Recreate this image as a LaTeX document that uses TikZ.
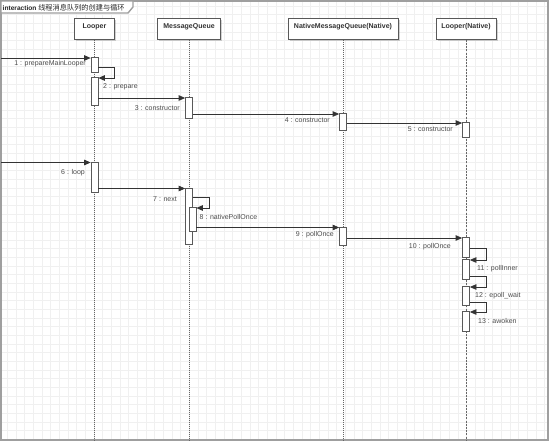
\documentclass[tikz,border=0pt]{standalone}
\usepackage{fontspec}
\setmainfont{Liberation Sans}
\newfontfamily\cjk{Noto Sans CJK SC}
\usetikzlibrary{shadows,arrows.meta}
\begin{document}
\begin{tikzpicture}[x=1pt,y=-1pt,
  gridline/.style={draw=gray!12, line width=0.5pt},
  frame/.style={draw=gray!75, line width=1.4pt},
  head/.style={draw=gray!70!black, fill=white, line width=0.8pt,
    font=\fontsize{7}{8}\selectfont\bfseries, text=black!80,
    text height=7pt, text depth=8pt, inner ysep=3pt, inner xsep=0pt, anchor=north,
    drop shadow={shadow xshift=1.5pt, shadow yshift=-1.5pt, fill=gray, opacity=0.35}},
  act/.style={draw=gray!70!black, fill=white, line width=0.7pt, minimum width=7pt, inner sep=0pt, anchor=north},
  life/.style={draw=gray!80!black, line width=0.7pt, dash pattern=on 1pt off 1pt},
  msg/.style={draw=black!80, line width=0.7pt, -{Triangle[length=6.5pt,width=5.5pt]}},
  lbl/.style={font=\fontsize{7}{8}\selectfont, text=black!70, inner sep=0pt},
]
\useasboundingbox (0,0) rectangle (550,442);
% grid
\begin{scope}
  \clip (1,1) rectangle (548,440);
  \foreach \i in {0,...,62} \draw[gridline] (7.1+\i*8.67,1) -- (7.1+\i*8.67,440);
  \foreach \j in {0,...,50} \draw[gridline] (1,5.8+\j*8.67) -- (548,5.8+\j*8.67);
\end{scope}
% frame and title tab
\draw[frame] (1,1) rectangle (548,440);
\filldraw[frame, fill=white] (1,1) -- (1,13) -- (128,13) -- (133,7) -- (133,1) -- cycle;
\node[anchor=west, inner sep=0pt, font=\fontsize{6.6}{8}\selectfont, text=black!85] (title) at (2.5,7.5)
  {\bfseries interaction {\fontsize{7.2}{8}\selectfont\mdseries\cjk 线程消息队列的创建与循环}};
% heads
\node[head, minimum width=40pt]  (hL)   at (94.5,18) {Looper};
\node[head, minimum width=63pt]  (hMQ)  at (189,18)  {MessageQueue};
\node[head, minimum width=110pt] (hNMQ) at (343,18)  {NativeMessageQueue(Native)};
\node[head, minimum width=60pt]  (hLN)  at (466,18)  {Looper(Native)};
% lifelines
\draw[life] (hL.south) -- (hL.south |- 0,440);
\draw[life] (hMQ.south) -- (hMQ.south |- 0,440);
\draw[life] (hNMQ.south) -- (hNMQ.south |- 0,440);
\draw[life, dash pattern=on 2pt off 1.2pt, line width=0.5pt] (hLN.south) -- (hLN.south |- 0,440);
% activations
\node[act, minimum height=15pt] (L1) at (94.5,57) {};
\node[act, minimum height=28pt] (L2) at (94.5,77) {};
\node[act, minimum height=21pt] (MQ1) at (189,97) {};
\node[act, minimum height=17pt] (NMQ1) at (343,113) {};
\node[act, minimum height=15pt] (LN1) at (466,122) {};
\node[act, minimum height=30pt] (L3) at (94.5,162) {};
\node[act, minimum height=56pt] (MQ2) at (189,188) {};
\node[act, minimum height=24pt] (MQ3) at (192.5,207) {};
\node[act, minimum height=18pt] (NMQ2) at (343,227) {};
\node[act, minimum height=20pt] (LN2) at (466,237) {};
\node[act, minimum height=20pt] (LN3) at (466,259) {};
\node[act, minimum height=19pt] (LN4) at (466,286) {};
\node[act, minimum height=20pt] (LN5) at (466,311) {};
% messages
\coordinate (in1) at (1,58);
\coordinate (in6) at (1,162.5);
\draw[msg] (in1) -- (L1.west |- in1);
\draw[msg] (L1.east |- 0,67) -- ++(16,0) |- (L2.east |- 0,78);
\draw[msg] (L2.east |- 0,98) -- (MQ1.west |- 0,98);
\draw[msg] (MQ1.east |- 0,114) -- (NMQ1.west |- 0,114);
\draw[msg] (NMQ1.east |- 0,123) -- (LN1.west |- 0,123);
\draw[msg] (in6) -- (L3.west |- in6);
\draw[msg] (L3.east |- 0,188.5) -- (MQ2.west |- 0,188.5);
\draw[msg] (MQ2.east |- 0,197) -- ++(16,0) |- (MQ3.east |- 0,208);
\draw[msg] (MQ3.east |- 0,227.5) -- (NMQ2.west |- 0,227.5);
\draw[msg] (NMQ2.east |- 0,238) -- (LN2.west |- 0,238);
\draw[msg] (LN2.east |- 0,248) -- ++(16,0) |- (LN3.east |- 0,260);
\draw[msg] (LN3.east |- 0,276) -- ++(16,0) |- (LN4.east |- 0,287);
\draw[msg] (LN4.east |- 0,302) -- ++(16,0) |- (LN5.east |- 0,312);
% labels
\node[lbl, anchor=east] (m1) at (86,64) {1 : prepareMainLooper};
\node[lbl, anchor=west] (m2) at (103,87) {2 : prepare};
\node[lbl, anchor=east] (m3) at (180,108) {3 : constructor};
\node[lbl, anchor=east] (m4) at (330,120.5) {4 : constructor};
\node[lbl, anchor=east] (m5) at (453,129.5) {5 : constructor};
\node[lbl, anchor=east] (m6) at (85,173) {6 : loop};
\node[lbl, anchor=east] (m7) at (177,199.5) {7 : next};
\node[lbl, anchor=west] (m8) at (199.5,217) {8 : nativePollOnce};
\node[lbl, anchor=east] (m9) at (334,234.5) {9 : pollOnce};
\node[lbl, anchor=east] (m10) at (451,247) {10 : pollOnce};
\node[lbl, anchor=west] (m11) at (477,269) {11 : pollInner};
\node[lbl, anchor=west] (m12) at (475,295.5) {12 : epoll\_wait};
\node[lbl, anchor=west] (m13) at (478,321) {13 : awoken};
\end{tikzpicture}
\end{document}
